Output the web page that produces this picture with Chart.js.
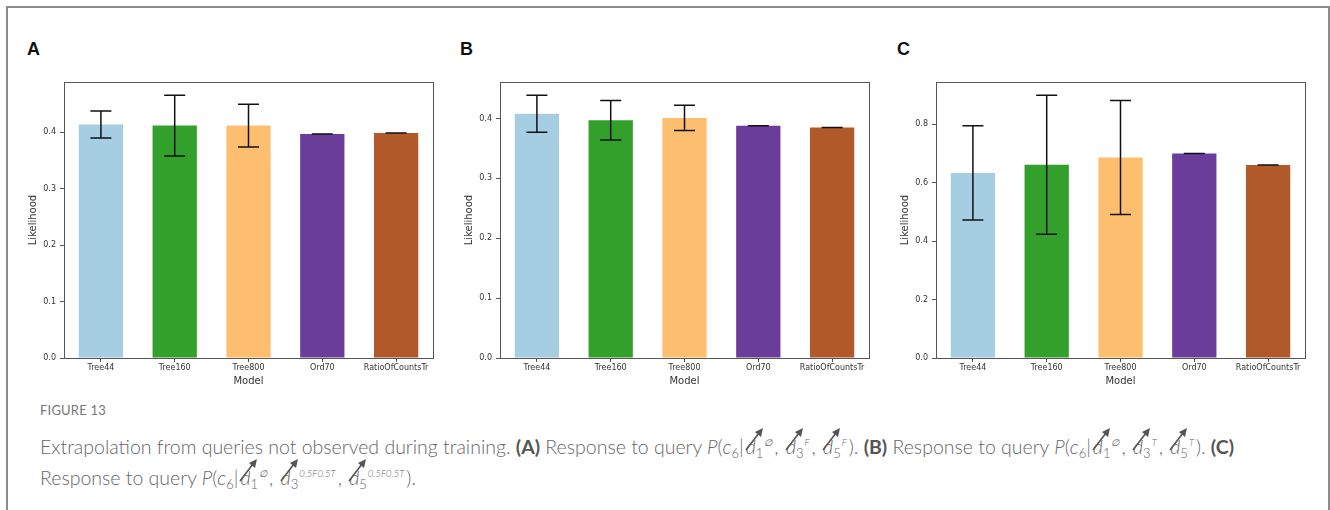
<!DOCTYPE html>
<html>
<head>
<meta charset="utf-8">
<script src="https://cdn.jsdelivr.net/npm/chart.js@4.4.0/dist/chart.umd.min.js"></script>
<style>
    html, body { margin: 0; padding: 0; background: #fff; }
    body { width: 1330px; height: 510px; position: relative; overflow: hidden; }
    #frame {
        position: absolute; left: 6px; top: 6px; width: 1320px; height: 520px;
        border: 2px solid #8c8c8c; border-bottom: none;
    }
    .panel { position: absolute; top: 70px; width: 420px; height: 330px; }
    .letter {
        position: absolute; top: 39px; font-family: "Liberation Sans", Arial, sans-serif;
        font-weight: bold; font-size: 18px; color: #111;
    }
    #caption {
        position: absolute; left: 40px; top: 401px; width: 1270px;
        font-family: Lato, "Open Sans", sans-serif; font-weight: 300; color: #666;
    }
    #fig { font-size: 13px; line-height: 18px; font-weight: 400; color: #777; letter-spacing: 0.2px; margin-bottom: 12px; }
    #text { font-size: 19.5px; line-height: 31px; white-space: nowrap; }
    #text b { font-weight: 700; color: #555; }
    .d { position: relative; font-style: italic; margin-left: 2px; }
    .d svg { position: absolute; left: 0px; top: -7px; overflow: visible; }
    .sb { font-size: 13px; vertical-align: -4px; line-height: 0; }
    .sp { font-size: 9.5px; vertical-align: 8px; line-height: 0; font-style: italic; margin-left: 1px; margin-right: 2px; }
</style>
</head>
<body>
<div id="frame"></div>

<div class="letter" style="left:27px">A</div>
<div class="letter" style="left:460px">B</div>
<div class="letter" style="left:897px">C</div>

<div class="panel" style="left:20px"><canvas id="chartA"></canvas></div>
<div class="panel" style="left:456px"><canvas id="chartB"></canvas></div>
<div class="panel" style="left:892px"><canvas id="chartC"></canvas></div>

<div id="caption">
    <div id="fig">FIGURE 13</div>
    <div id="text"></div>
</div>

<script>
// Data
const models = ['Tree44', 'Tree160', 'Tree800', 'Ord70', 'RatioOfCountsTr'];

const likelihoodA = [0.414, 0.412, 0.412, 0.397, 0.399];
const errorA = [0.024, 0.054, 0.038, 0, 0];

const likelihoodB = [0.408, 0.397, 0.401, 0.388, 0.385];
const errorB = [0.031, 0.033, 0.021, 0, 0];

const likelihoodC = [0.633, 0.661, 0.686, 0.699, 0.660];
const errorC = [0.161, 0.238, 0.195, 0, 0];

const stepA = 0.1, stepB = 0.1, stepC = 0.2;

const barColors = ['#a6cee3', '#33a02c', '#fdbf6f', '#6a3d9a', '#b15928'];
const spineColor = '#555';

// error bars with caps, drawn after the bars
const errorBarPlugin = {
    id: 'errorBars',
    afterDatasetsDraw(chart) {
        const { ctx, scales: { y } } = chart;
        const meta = chart.getDatasetMeta(0);
        const values = chart.data.datasets[0].data;
        const errs = chart.data.datasets[0].errors;
        ctx.save();
        ctx.strokeStyle = '#111';
        ctx.lineWidth = 1.5;
        meta.data.forEach((bar, i) => {
            const top = y.getPixelForValue(values[i] + errs[i]);
            const bottom = y.getPixelForValue(values[i] - errs[i]);
            const cap = 10.5;
            ctx.beginPath();
            ctx.moveTo(bar.x, top); ctx.lineTo(bar.x, bottom);
            ctx.moveTo(bar.x - cap, top); ctx.lineTo(bar.x + cap, top);
            ctx.moveTo(bar.x - cap, bottom); ctx.lineTo(bar.x + cap, bottom);
            ctx.stroke();
        });
        ctx.restore();
    }
};

// box around the plot area (matplotlib spines)
const framePlugin = {
    id: 'frameBox',
    afterDraw(chart) {
        const { ctx, chartArea: a } = chart;
        ctx.save();
        ctx.strokeStyle = spineColor;
        ctx.lineWidth = 1;
        ctx.strokeRect(a.left + 0.5, a.top + 0.5, a.right - a.left, a.bottom - a.top);
        ctx.restore();
    }
};

function makeChart(id, values, errors, step) {
    const top = Math.max(...values.map((v, i) => v + errors[i])) * 1.05;
    return new Chart(document.getElementById(id), {
        type: 'bar',
        data: {
            labels: models,
            datasets: [{
                data: values,
                errors: errors,
                backgroundColor: barColors,
                borderWidth: 0,
                categoryPercentage: 1,
                barPercentage: 0.6
            }]
        },
        options: {
            responsive: true,
            maintainAspectRatio: false,
            animation: false,
            layout: { padding: { top: 12, right: 7, left: 0, bottom: 0 } },
            plugins: { legend: { display: false }, tooltip: { enabled: false } },
            scales: {
                x: {
                    grid: { display: true, drawOnChartArea: false, offset: false, tickLength: 4, color: spineColor },
                    border: { color: spineColor },
                    ticks: { color: '#333', font: { family: 'DejaVu Sans', size: 8 }, padding: 1, maxRotation: 0 },
                    title: { display: true, text: 'Model', color: '#333', font: { family: 'DejaVu Sans', size: 10 }, padding: { top: 0, bottom: 13 } },
                    afterFit: s => { s.height = 42; }
                },
                y: {
                    min: 0,
                    max: top,
                    grid: { display: true, drawOnChartArea: false, tickLength: 4, color: spineColor },
                    border: { color: spineColor },
                    ticks: {
                        stepSize: step, includeBounds: false, padding: 4, color: '#333',
                        font: { family: 'DejaVu Sans', size: 8 },
                        callback: v => v.toFixed(1)
                    },
                    title: { display: true, text: 'Likelihood', color: '#333', font: { family: 'DejaVu Sans', size: 10 }, padding: { top: 7, bottom: 0 } },
                    afterFit: s => { s.width = 44; }
                }
            }
        },
        plugins: [errorBarPlugin, framePlugin]
    });
}

// caption with crossed-out d symbols
const arrowSvg = '<svg width="18" height="22" viewBox="0 0 18 22"><line x1="0" y1="22" x2="13" y2="5" stroke="#555" stroke-width="1.6"/><polygon points="17,0 9,4 15,9" fill="#555"/></svg>';
function dTerm(sub, sup) {
    return `<span class="d">d${arrowSvg}</span><span class="sb">${sub}</span><span class="sp">${sup}</span>`;
}
function query(s1, s3, s5) {
    return `<i>P</i>(<i>c</i><span class="sb">6</span>|${dTerm(1, s1)}, ${dTerm(3, s3)}, ${dTerm(5, s5)})`;
}
document.getElementById('text').innerHTML =
    'Extrapolation from queries not observed during training. <b>(A)</b> Response to query ' +
    query('\u2205', 'F', 'F') + '. <b>(B)</b> Response to query ' + query('\u2205', 'T', 'T') +
    '. <b>(C)</b><br>Response to query ' + query('\u2205', '0.5F0.5T', '0.5F0.5T') + '.';

document.addEventListener('DOMContentLoaded', () => {
    makeChart('chartA', likelihoodA, errorA, stepA);
    makeChart('chartB', likelihoodB, errorB, stepB);
    makeChart('chartC', likelihoodC, errorC, stepC);
});
</script>
</body>
</html>
